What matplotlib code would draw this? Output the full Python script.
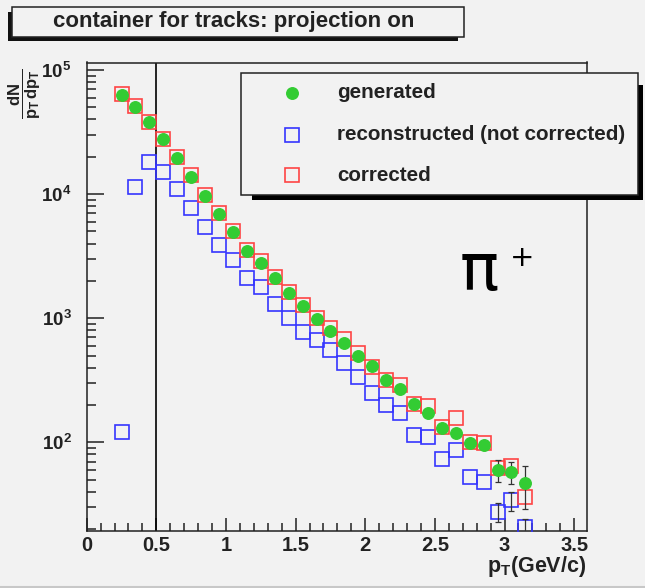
import matplotlib
matplotlib.use("Agg")
import matplotlib.pyplot as plt
from matplotlib.patches import Rectangle
from matplotlib.lines import Line2D
from matplotlib.ticker import FixedLocator, FixedFormatter, MultipleLocator

plt.rcParams['font.family'] = ['Liberation Sans', 'DejaVu Sans']
plt.rcParams['mathtext.fontset'] = 'custom'
plt.rcParams['mathtext.rm'] = 'Liberation Sans'
plt.rcParams['mathtext.bf'] = 'Liberation Sans:bold'
plt.rcParams['mathtext.it'] = 'Liberation Sans:italic'

# ---------------- data ----------------
pt = [0.25, 0.35, 0.45, 0.55, 0.65, 0.75, 0.85, 0.95, 1.05, 1.15,
      1.25, 1.35, 1.45, 1.55, 1.65, 1.75, 1.85, 1.95, 2.05, 2.15,
      2.25, 2.35, 2.45, 2.55, 2.65, 2.75, 2.85, 2.95, 3.05, 3.15]

generated = [6.3e4, 5.06e4, 3.79e4, 2.77e4, 1.94e4, 1.38e4, 9.66e3, 6.92e3, 4.98e3, 3.50e3,
             2.80e3, 2.09e3, 1.59e3, 1.26e3, 980, 789, 635, 496, 412, 318,
             267, 204, 171, 130, 119, 99, 95, 60, 58, 47]

reconstructed = [122, 1.15e4, 1.80e4, 1.52e4, 1.11e4, 7.77e3, 5.46e3, 3.89e3, 2.94e3, 2.10e3,
                 1.78e3, 1.30e3, 998, 779, 667, 554, 433, 338, 248, 200,
                 171, 115, 111, 74, 87, 53, 48, 27.6, 34, 20.9]

corrected = [6.37e4, 5.13e4, 3.83e4, 2.77e4, 2.0e4, 1.43e4, 9.84e3, 7.0e3, 5.07e3, 3.55e3,
             2.91e3, 2.16e3, 1.64e3, 1.28e3, 998, 829, 676, 521, 407, 318,
             290, 204, 196, 134, 156, 101, 98, 62, 64, 36.5]

# statistical errors visible only in the last bins
err_pt = [2.95, 3.05, 3.15]
gen_err_vals = [60, 58, 47]
gen_err = [12, 12, 18]
rec_err_vals = [27.6, 34, 20.9]
rec_err = [5, 6, 3]

legend_labels = ["generated", "reconstructed (not corrected)", "corrected"]
title_text = "container for tracks: projection on"

xtick_vals = [0, 0.5, 1, 1.5, 2, 2.5, 3, 3.5]
xtick_labels = ["0", "0.5", "1", "1.5", "2", "2.5", "3", "3.5"]
ytick_vals = [1e2, 1e3, 1e4, 1e5]
ytick_labels = [r"$\mathbf{10^{2}}$", r"$\mathbf{10^{3}}$", r"$\mathbf{10^{4}}$", r"$\mathbf{10^{5}}$"]

# ---------------- layout ----------------
W, H = 645, 588
BG = "#f2f2f2"
GREEN = "#33cc33"
BLUE = "#3535ff"
RED = "#ff4444"


def fx(x):
    return x / W


def fy(y):
    return 1 - y / H


def frect(x0, y0, x1, y1, **kw):
    return Rectangle((fx(x0), fy(y1)), (x1 - x0) / W, (y1 - y0) / H,
                     transform=fig.transFigure, **kw)


fig = plt.figure(figsize=(W / 100, H / 100), dpi=100, facecolor=BG)

ax_l, ax_r, ax_t, ax_b = 86.7, 586.7, 62.5, 530.7
ax = fig.add_axes([fx(ax_l), fy(ax_b), (ax_r - ax_l) / W, (ax_b - ax_t) / H])
ax.set_facecolor(BG)

ax.set_yscale('log')
ax.set_xlim(0, 3.59)
ax.set_ylim(19.4, 1.15e5)

ax.plot(pt, reconstructed, ls='none', marker='s', ms=9.5, mfc='none', mec=BLUE, mew=1.2, zorder=3)
ax.plot(pt, corrected, ls='none', marker='s', ms=9.5, mfc='none', mec=RED, mew=1.2, zorder=4)
ax.errorbar(err_pt, gen_err_vals, yerr=gen_err, fmt='none', ecolor='#333333', elinewidth=0.9,
            capsize=2.5, capthick=0.9, zorder=5)
ax.errorbar(err_pt, rec_err_vals, yerr=rec_err, fmt='none', ecolor='#333333', elinewidth=0.9,
            capsize=2.5, capthick=0.9, zorder=5)
ax.plot(pt, generated, ls='none', marker='o', ms=8.3, mfc=GREEN, mec=GREEN, zorder=6)

ax.axvline(0.5, color='black', lw=1.2, zorder=2)

for s in ax.spines.values():
    s.set_linewidth(1.1)
    s.set_color('#202020')

ax.xaxis.set_major_locator(FixedLocator(xtick_vals))
ax.xaxis.set_major_formatter(FixedFormatter(xtick_labels))
ax.xaxis.set_minor_locator(MultipleLocator(0.1))
ax.yaxis.set_major_locator(FixedLocator(ytick_vals))
ax.yaxis.set_major_formatter(FixedFormatter(ytick_labels))
ax.yaxis.set_minor_locator(matplotlib.ticker.LogLocator(base=10, subs=[2, 3, 4, 5, 6, 7, 8, 9], numticks=20))
ax.yaxis.set_minor_formatter(matplotlib.ticker.NullFormatter())

ax.tick_params(axis='x', which='major', direction='in', length=9.5, width=1.1, color='#202020',
               labelsize=14.5, pad=4, top=False)
ax.tick_params(axis='x', which='minor', direction='in', length=5.8, width=1.1, color='#202020', top=False)
ax.tick_params(axis='y', which='major', direction='in', length=12.5, width=1.1, color='#202020',
               labelsize=13.5, pad=11, right=False)
ax.tick_params(axis='y', which='minor', direction='in', length=6.5, width=1.1, color='#202020', right=False)
for lab in ax.get_xticklabels():
    lab.set_fontweight('bold')
    lab.set_color('#222222')
for lab in ax.get_yticklabels():
    lab.set_color('#222222')

# axis labels
fig.text(fx(586), fy(571.7), r"$\mathbf{p_{T}}$(GeV/c)", fontsize=15.5, fontweight='bold',
         ha='right', va='baseline', color='#222222')
fig.text(fx(25), fy(94), r"$\dfrac{\mathbf{dN}}{\mathbf{p_{T}\,dp_{T}}}$", fontsize=12,
         rotation=90, ha='center', va='center', color='#222222')

# title box
fig.add_artist(frect(8, 12, 458, 41, facecolor='#111111', edgecolor='none', zorder=5))
fig.add_artist(frect(12, 7, 464, 37, facecolor=BG, edgecolor='#222222', lw=1.1, zorder=6))
fig.text(fx(234), fy(22), title_text, fontsize=16, fontweight='bold', ha='center', va='center',
         color='#222222', zorder=7)

# legend box
fig.add_artist(frect(252, 85, 643, 200, facecolor='#000000', edgecolor='none', zorder=5))
fig.add_artist(frect(241, 73.3, 637.7, 195, facecolor=BG, edgecolor='#222222', lw=1.1, zorder=6))
rows = [93, 135, 175]
fig.add_artist(Line2D([fx(292)], [fy(rows[0])], ls='none', marker='o', ms=8.3, mfc=GREEN, mec=GREEN,
                      transform=fig.transFigure, zorder=7))
fig.add_artist(Line2D([fx(292)], [fy(rows[1])], ls='none', marker='s', ms=9.5, mfc='none', mec=BLUE,
                      mew=1.2, transform=fig.transFigure, zorder=7))
fig.add_artist(Line2D([fx(292)], [fy(rows[2])], ls='none', marker='s', ms=9.5, mfc='none', mec=RED,
                      mew=1.2, transform=fig.transFigure, zorder=7))
for r, lab in zip(rows, legend_labels):
    fig.text(fx(337), fy(r), lab, fontsize=14.9, fontweight='bold', ha='left', va='center',
             color='#222222', zorder=8)

# particle label
fig.text(fx(460), fy(290), "\u03c0", fontsize=47, family='DejaVu Sans', ha='left', va='baseline',
         color='black')
fig.text(fx(522), fy(258), "+", fontsize=21, family='DejaVu Sans', ha='center', va='center',
         color='black')

# window border line at bottom
fig.add_artist(Line2D([0, 1], [fy(586.5), fy(586.5)], color='#c8c8c8', lw=1.5, transform=fig.transFigure))

fig.savefig("out.png", dpi=100, facecolor=BG)
